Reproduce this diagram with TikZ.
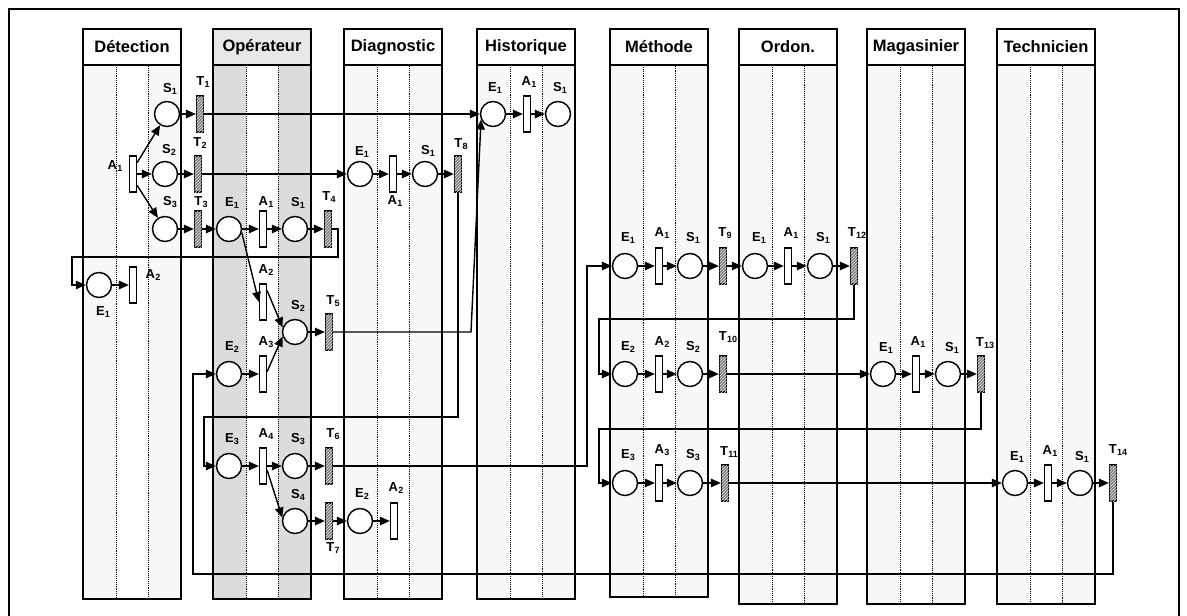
\documentclass[tikz,border=0pt]{standalone}
\usepackage{fontspec}
\setmainfont{Liberation Sans}
\usetikzlibrary{arrows.meta,patterns}
\definecolor{lanefill}{HTML}{F8F8F8}
\definecolor{opfill}{HTML}{DCDCDC}
\definecolor{ophead}{HTML}{E8E8E8}
\definecolor{hatchfill}{HTML}{7A7A7A}
\newcommand\lab[2]{#1\kern0.2pt\raisebox{-1.6pt}{\fontsize{9}{9}\selectfont #2}}
\tikzset{
 lanebox/.style={draw, line width=1.3pt},
 sepline/.style={densely dotted, line width=0.9pt},
 title/.style={font=\fontsize{16.5}{16.5}\selectfont\bfseries, inner sep=0pt},
 place/.style={circle, draw, line width=1.4pt, fill=white, minimum size=25pt, inner sep=0pt},
 trans/.style={rectangle, draw, line width=1.3pt, fill=white, minimum width=7pt, minimum height=36pt, inner sep=0pt},
 htrans/.style={trans, fill=hatchfill, postaction={pattern=north east lines, pattern color=white!85!gray}},
 lbl/.style={font=\fontsize{13}{13}\selectfont\bfseries, inner sep=0pt},
 arr/.style={-{Triangle[length=10pt,width=8.5pt]}, line width=1.4pt},
}
\begin{document}
\begin{tikzpicture}[x=1pt,y=-1pt]
\useasboundingbox (0,0) rectangle (1187,616);
\fill[white] (0,0) rectangle (1187,616);
\draw[line width=2pt] (9,616) -- (9,9) -- (1179,9) -- (1179,616);
% lanes
\foreach \lx/\ltitle/\lb in {83/Détection/599, 344/Diagnostic/599, 477/Historique/599, 610/Méthode/597, 739/Ordon./604, 867/Magasinier/604, 997/Technicien/604}{
 \fill[lanefill] (\lx,65) rectangle (\lx+98,\lb);
 \fill[white] (\lx+33,65) rectangle (\lx+65,\lb);
 \draw[sepline] (\lx+33,65) -- (\lx+33,\lb) -- (\lx+65,\lb) -- (\lx+65,65);
 \draw[lanebox] (\lx,65) rectangle (\lx+98,\lb);
 \draw[lanebox, fill=white] (\lx,29) rectangle (\lx+98,65);
 \node[title] (title\lx) at (\lx+49,47) {\ltitle};
}
\fill[opfill] (213,65) rectangle (311,599);
\fill[white] (246,65) rectangle (278,599);
\draw[sepline] (246,65) -- (246,599) -- (278,599) -- (278,65);
\draw[lanebox] (213,65) rectangle (311,599);
\draw[lanebox, fill=ophead] (213,29) rectangle (311,65);
\node[title] (titleop) at (262,47) {Opérateur};

% Detection
\node[place] (dS1) at (167,114) {};
\node[htrans] (dT1) at (200,114) {};
\node[trans] (dA1) at (133,174) {};
\node[place] (dS2) at (165,174) {};
\node[htrans] (dT2) at (198,174) {};
\node[place] (dS3) at (165,229) {};
\node[htrans] (dT3) at (198,229) {};
\node[place] (dE1) at (99,285) {};
\node[trans] (dA2) at (133,285) {};
% Operateur
\node[place] (oE1) at (229,229) {};
\node[trans] (oA1) at (263,229) {};
\node[place] (oS1) at (295,229) {};
\node[htrans] (oT4) at (328,229) {};
\node[trans] (oA2) at (263,302) {};
\node[place] (oS2) at (295,332) {};
\node[htrans] (oT5) at (329,332) {};
\node[place] (oE2) at (229,374) {};
\node[trans] (oA3) at (263,374) {};
\node[place] (oE3) at (229,466) {};
\node[trans] (oA4) at (263,466) {};
\node[place] (oS3) at (295,466) {};
\node[htrans] (oT6) at (329,466) {};
\node[place] (oS4) at (295,521) {};
\node[htrans] (oT7) at (329,521) {};
% Diagnostic
\node[place] (gE1) at (360,174) {};
\node[trans] (gA1) at (393,174) {};
\node[place] (gS1) at (425,174) {};
\node[htrans] (gT8) at (458,174) {};
\node[place] (gE2) at (360,521) {};
\node[trans] (gA2) at (394,521) {};
% Historique
\node[place] (hE1) at (493,114) {};
\node[trans] (hA1) at (527,114) {};
\node[place] (hS1) at (558,114) {};
% Methode
\node[place] (mE1) at (625,266) {};
\node[trans] (mA1) at (659,266) {};
\node[place] (mS1) at (690,266) {};
\node[htrans] (mT9) at (723,266) {};
\node[place] (mE2) at (625,374) {};
\node[trans] (mA2) at (659,374) {};
\node[place] (mS2) at (690,374) {};
\node[htrans] (mT10) at (723,374) {};
\node[place] (mE3) at (625,483) {};
\node[trans] (mA3) at (659,483) {};
\node[place] (mS3) at (690,483) {};
\node[htrans] (mT11) at (725,483) {};
% Ordon
\node[place] (rE1) at (755,266) {};
\node[trans] (rA1) at (788,266) {};
\node[place] (rS1) at (820,266) {};
\node[htrans] (rT12) at (854,266) {};
% Magasinier
\node[place] (kE1) at (883,374) {};
\node[trans] (kA1) at (916,374) {};
\node[place] (kS1) at (948,374) {};
\node[htrans] (kT13) at (981,374) {};
% Technicien
\node[place] (tE1) at (1015,483) {};
\node[trans] (tA1) at (1048,483) {};
\node[place] (tS1) at (1080,483) {};
\node[htrans] (tT14) at (1113,483) {};

% labels
\node[lbl] (ldS1) at (170,89) {\lab{S}{1}};
\node[lbl] (ldT1) at (203,82) {\lab{T}{1}};
\node[lbl] (ldA1) at (115,166) {\lab{A}{1}};
\node[lbl] (ldS2) at (169,150) {\lab{S}{2}};
\node[lbl] (ldT2) at (200,143) {\lab{T}{2}};
\node[lbl] (ldS3) at (170,202) {\lab{S}{3}};
\node[lbl] (ldT3) at (201,202) {\lab{T}{3}};
\node[lbl] (ldE1) at (103,312) {\lab{E}{1}};
\node[lbl] (ldA2) at (153,275) {\lab{A}{2}};
\node[lbl] (loE1) at (232,203) {\lab{E}{1}};
\node[lbl] (loA1) at (266,202) {\lab{A}{1}};
\node[lbl] (loS1) at (298,203) {\lab{S}{1}};
\node[lbl] (loT4) at (329,197) {\lab{T}{4}};
\node[lbl] (loA2) at (266,270) {\lab{A}{2}};
\node[lbl] (loS2) at (298,306) {\lab{S}{2}};
\node[lbl] (loT5) at (333,301) {\lab{T}{5}};
\node[lbl] (loE2) at (232,347) {\lab{E}{2}};
\node[lbl] (loA3) at (266,342) {\lab{A}{3}};
\node[lbl] (loE3) at (232,439) {\lab{E}{3}};
\node[lbl] (loA4) at (266,434) {\lab{A}{4}};
\node[lbl] (loS3) at (298,439) {\lab{S}{3}};
\node[lbl] (loT6) at (333,434) {\lab{T}{6}};
\node[lbl] (loS4) at (298,495) {\lab{S}{4}};
\node[lbl] (loT7) at (333,548) {\lab{T}{7}};
\node[lbl] (lgE1) at (362,152) {\lab{E}{1}};
\node[lbl] (lgA1) at (395,201) {\lab{A}{1}};
\node[lbl] (lgS1) at (428,151) {\lab{S}{1}};
\node[lbl] (lgT8) at (461,144) {\lab{T}{8}};
\node[lbl] (lgE2) at (362,494) {\lab{E}{2}};
\node[lbl] (lgA2) at (396,488) {\lab{A}{2}};
\node[lbl] (lhE1) at (495,88) {\lab{E}{1}};
\node[lbl] (lhA1) at (529,82) {\lab{A}{1}};
\node[lbl] (lhS1) at (560,88) {\lab{S}{1}};
\node[lbl] (lmE1) at (628,238) {\lab{E}{1}};
\node[lbl] (lmA1) at (662,233) {\lab{A}{1}};
\node[lbl] (lmS1) at (693,238) {\lab{S}{1}};
\node[lbl] (lmT9) at (725,233) {\lab{T}{9}};
\node[lbl] (lmE2) at (628,347) {\lab{E}{2}};
\node[lbl] (lmA2) at (662,342) {\lab{A}{2}};
\node[lbl] (lmS2) at (693,347) {\lab{S}{2}};
\node[lbl] (lmT10) at (728,337) {\lab{T}{10}};
\node[lbl] (lmE3) at (628,455) {\lab{E}{3}};
\node[lbl] (lmA3) at (662,450) {\lab{A}{3}};
\node[lbl] (lmS3) at (693,455) {\lab{S}{3}};
\node[lbl] (lmT11) at (729,452) {\lab{T}{11}};
\node[lbl] (lrE1) at (759,238) {\lab{E}{1}};
\node[lbl] (lrA1) at (791,233) {\lab{A}{1}};
\node[lbl] (lrS1) at (823,238) {\lab{S}{1}};
\node[lbl] (lrT12) at (857,233) {\lab{T}{12}};
\node[lbl] (lkE1) at (886,348) {\lab{E}{1}};
\node[lbl] (lkA1) at (918,342) {\lab{A}{1}};
\node[lbl] (lkS1) at (952,348) {\lab{S}{1}};
\node[lbl] (lkT13) at (985,343) {\lab{T}{13}};
\node[lbl] (ltE1) at (1017,457) {\lab{E}{1}};
\node[lbl] (ltA1) at (1050,451) {\lab{A}{1}};
\node[lbl] (ltS1) at (1082,457) {\lab{S}{1}};
\node[lbl] (ltT14) at (1118,450) {\lab{T}{14}};

% connectors - Detection
\draw[arr] (dA1.70) -- (dS1);
\draw[arr] (dA1) -- (dS2);
\draw[arr] (dA1.-70) -- (dS3);
\draw[arr] (dS1) -- (dT1);
\draw[arr] (dS2) -- (dT2);
\draw[arr] (dS3) -- (dT3);
\draw[arr] (dT1) -- (hE1);
\draw[arr] (dT2) -- (gE1);
\draw[arr] (dT3) -- (oE1);
\draw[arr] (dE1) -- (dA2);
% Operateur
\draw[arr] (oE1) -- (oA1);
\draw[arr] (oA1) -- (oS1);
\draw[arr] (oS1) -- (oT4);
\draw[arr] (oT4.east) -- (338,229) -- (338,257) -- (72,257) -- (72,285) -- (dE1.west);
\draw[arr] (oE1.-15) -- (oA2.west);
\draw[arr] (oA2.70) -- (oS2.160);
\draw[arr] (oE2) -- (oA3);
\draw[arr] (oA3.30) -- (oS2.200);
\draw[arr] (oS2) -- (oT5);
\draw[arr] (oT5.east) -- (471,332) -- (hE1.205);
\draw[arr] (oE3) -- (oA4);
\draw[arr] (oA4) -- (oS3);
\draw[arr] (oS3) -- (oT6);
\draw[arr] (oA4.-45) -- (oS4.165);
\draw[arr] (oS4) -- (oT7);
\draw[arr] (oT7) -- (gE2);
\draw[arr] (oT6.east) -- (587,466) -- (587,266) -- (mE1.west);
% Diagnostic
\draw[arr] (gE1) -- (gA1);
\draw[arr] (gA1) -- (gS1);
\draw[arr] (gS1) -- (gT8);
\draw[arr] (gT8.south) -- (458,417) -- (204,417) -- (204,466) -- (oE3.west);
\draw[arr] (gE2) -- (gA2);
% Historique
\draw[arr] (hE1) -- (hA1);
\draw[arr] (hA1) -- (hS1);
% Methode / Ordon
\draw[arr] (mE1) -- (mA1);
\draw[arr] (mA1) -- (mS1);
\draw[arr] (mS1) -- (mT9);
\draw[arr] (mT9) -- (rE1);
\draw[arr] (rE1) -- (rA1);
\draw[arr] (rA1) -- (rS1);
\draw[arr] (rS1) -- (rT12);
\draw[arr] (rT12.south) -- (854,319) -- (599,319) -- (599,374) -- (mE2.west);
\draw[arr] (mE2) -- (mA2);
\draw[arr] (mA2) -- (mS2);
\draw[arr] (mS2) -- (mT10);
\draw[arr] (mT10) -- (kE1);
\draw[arr] (kE1) -- (kA1);
\draw[arr] (kA1) -- (kS1);
\draw[arr] (kS1) -- (kT13);
\draw[arr] (kT13.south) -- (981,429) -- (599,429) -- (599,483) -- (mE3.west);
\draw[arr] (mE3) -- (mA3);
\draw[arr] (mA3) -- (mS3);
\draw[arr] (mS3) -- (mT11);
\draw[arr] (mT11) -- (tE1);
\draw[arr] (tE1) -- (tA1);
\draw[arr] (tA1) -- (tS1);
\draw[arr] (tS1) -- (tT14);
\draw[arr] (tT14.south) -- (1113,574) -- (193,574) -- (193,374) -- (oE2.west);
\end{tikzpicture}
\end{document}
